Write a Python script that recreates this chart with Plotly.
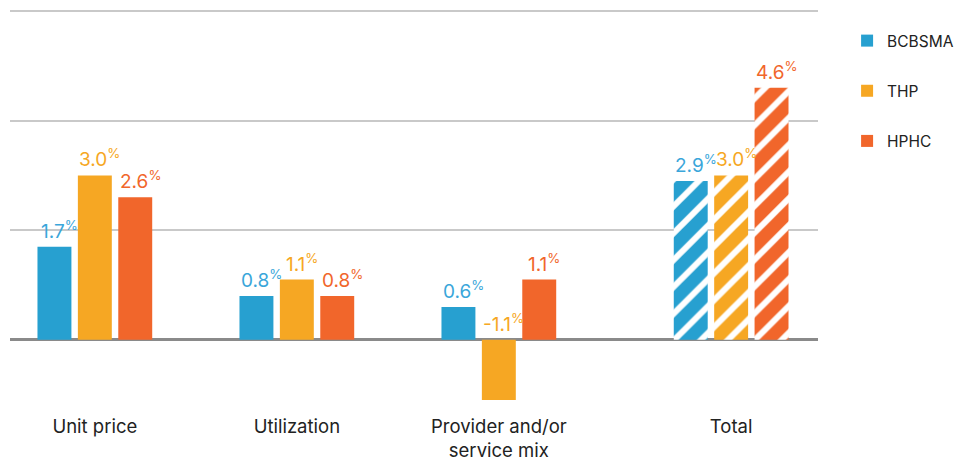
import plotly.graph_objects as go

categories = ["Unit price", "Utilization", "Provider and/or<br>service mix", "Total"]
series_names = ["BCBSMA", "THP", "HPHC"]
bcbsma = [1.7, 0.8, 0.6, 2.9]
thp = [3.0, 1.1, -1.1, 3.0]
hphc = [2.6, 0.8, 1.1, 4.6]
y_ticks = [0, 2, 4, 6]

# layout (not data): x positions of the category groups, Total set slightly apart
group_pos = [0, 1, 2, 3.15]
colors = ["#27a0d0", "#f6a723", "#f1662b"]
label_colors = ["#3aa6da", "#f6a723", "#f1662b"]
patterns = ["", "", "", "/"]

fig = go.Figure()
series = [bcbsma, thp, hphc]
offsets = [-0.2, 0.0, 0.2]
for name, vals, col, lcol, off in zip(series_names, series, colors, label_colors, offsets):
    fig.add_trace(go.Bar(
        x=group_pos, y=vals, name=name,
        marker=dict(color=col, line=dict(width=0),
                    pattern=dict(shape=patterns, fgcolor="white", bgcolor=col,
                                 fgopacity=1, size=19, solidity=0.32,
                                 fillmode="replace")),
        legendgroup=name,
        hoverinfo="skip",
    ))
    for gx, v in zip(group_pos, vals):
        fig.add_annotation(
            x=gx + off, y=max(v, 0), xref="x", yref="y",
            text=f"{v:.1f}<sup>%</sup>", showarrow=False,
            yanchor="bottom", yshift=2, xshift=5,
            font=dict(family="Inter, Roboto, sans-serif", size=19, color=lcol),
        )

# page body has an 8px margin, so the figure is sized 957x453
fig.update_layout(
    width=957, height=453,
    margin=dict(l=2, r=147, t=2, b=50, autoexpand=False),
    paper_bgcolor="white", plot_bgcolor="white",
    barmode="group", bargap=0.4, bargroupgap=0.16,
    font=dict(family="Inter, Roboto, sans-serif", color="#222222"),
    xaxis=dict(range=[-0.42, 3.58], tickvals=group_pos, ticktext=categories,
               showgrid=False, zeroline=False, showline=False, ticks="",
               automargin=False,
               tickfont=dict(size=18.5, color="#222222"), ticklabelstandoff=2),
    yaxis=dict(range=[-1.3, 6.02], tickvals=y_ticks, showticklabels=False,
               automargin=False,
               showgrid=True, gridcolor="#c9c9c9", gridwidth=1.5,
               zeroline=True, zerolinecolor="#8a8a8a", zerolinewidth=2.5,
               showline=False, ticks=""),
    legend=dict(x=1.036, xanchor="left", y=0.965, yanchor="top",
                traceorder="grouped", tracegroupgap=27,
                font=dict(size=15.5, color="#222222"),
                bgcolor="rgba(0,0,0,0)"),
    showlegend=True,
)

fig.write_html("out.html")
